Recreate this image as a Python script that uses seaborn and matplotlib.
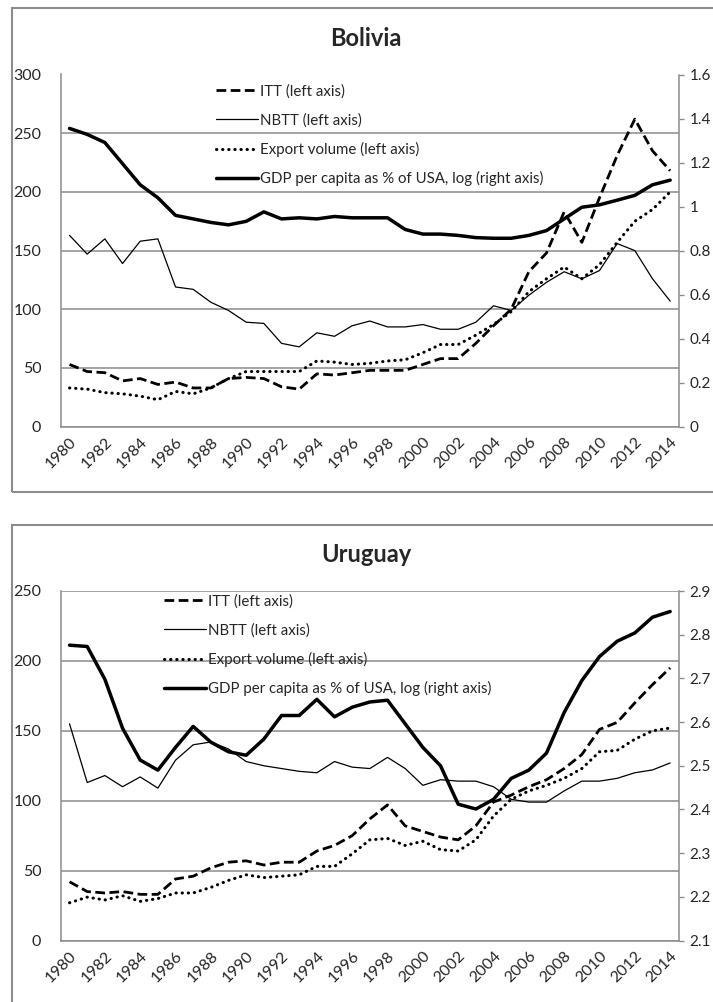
import matplotlib.pyplot as plt
from matplotlib.patches import Rectangle
import seaborn as sns
import pandas as pd

years = list(range(1980, 2015))

# Bolivia (left axis: indices, right axis: GDP per capita as % of USA, log)
bol_itt = [53, 47, 46, 39, 41, 36, 38, 33, 33, 41, 42, 41, 34, 32, 45, 44, 46, 48,
           48, 48, 53, 58, 58, 71, 86, 100, 132, 148, 183, 157, 195, 231, 262, 235, 218]
bol_nbtt = [163, 147, 160, 139, 158, 160, 119, 117, 106, 99, 89, 88, 71, 68, 80, 77, 86, 90,
            85, 85, 87, 83, 83, 89, 103, 99, 112, 123, 132, 126, 133, 156, 150, 126, 107]
bol_export = [33, 32, 29, 28, 26, 23, 30, 28, 33, 41, 47, 47, 47, 47, 56, 55, 53, 54,
              56, 57, 63, 70, 70, 78, 87, 98, 115, 126, 136, 126, 138, 157, 175, 185, 200]
bol_gdp = [1.355, 1.328, 1.291, 1.195, 1.099, 1.04, 0.96, 0.944, 0.928, 0.917, 0.933, 0.976,
           0.944, 0.949, 0.944, 0.955, 0.949, 0.949, 0.949, 0.896, 0.875, 0.875, 0.869, 0.859,
           0.856, 0.856, 0.869, 0.891, 0.944, 0.997, 1.008, 1.029, 1.051, 1.099, 1.12]

# Uruguay
uru_itt = [42, 35, 34, 35, 33, 33, 44, 46, 52, 56, 57, 54, 56, 56, 64, 68, 75, 87,
           97, 82, 78, 74, 72, 82, 99, 104, 110, 115, 123, 133, 151, 156, 170, 183, 195]
uru_nbtt = [155, 113, 118, 110, 117, 109, 129, 140, 142, 137, 128, 125, 123, 121, 120, 128, 124, 123,
            131, 123, 111, 115, 114, 114, 110, 101, 99, 99, 107, 114, 114, 116, 120, 122, 127]
uru_export = [27, 31, 29, 32, 28, 30, 34, 34, 38, 43, 47, 45, 46, 47, 53, 53, 62, 72,
              73, 68, 71, 65, 64, 72, 89, 101, 107, 111, 116, 123, 135, 136, 144, 150, 152]
uru_gdp = [2.776, 2.773, 2.698, 2.586, 2.513, 2.49, 2.542, 2.59, 2.554, 2.532, 2.524, 2.561,
           2.615, 2.615, 2.652, 2.612, 2.634, 2.646, 2.65, 2.596, 2.542, 2.50, 2.412, 2.401,
           2.423, 2.471, 2.49, 2.529, 2.622, 2.695, 2.75, 2.785, 2.804, 2.84, 2.853]

labels = ["ITT (left axis)", "NBTT (left axis)", "Export volume (left axis)",
          "GDP per capita as % of USA, log (right axis)"]

sns.set_style("white")
plt.rcParams['font.family'] = ['Lato', 'DejaVu Sans']

W, H = 713, 1002
fig = plt.figure(figsize=(W / 100, H / 100), dpi=100)
GREY = "#8c8c8c"


def panel(top, bottom, title, title_y, itt, nbtt, expo, gdp, lmax, lstep, rmin, rmax, rstep, leg_x, leg_y):
    ax = fig.add_axes([60.7 / W, 1 - bottom / H, (679 - 60.7) / W, (bottom - top) / H])
    df = pd.DataFrame({"year": years, "itt": itt, "nbtt": nbtt, "expo": expo, "gdp": gdp})

    sns.lineplot(data=df, x="year", y="itt", ax=ax, color="black", lw=2.0,
                 linestyle=(0, (3.5, 1.6)), label=labels[0], legend=False)
    sns.lineplot(data=df, x="year", y="nbtt", ax=ax, color="black", lw=0.9,
                 label=labels[1], legend=False)
    sns.lineplot(data=df, x="year", y="expo", ax=ax, color="black", lw=2.2,
                 linestyle=(0, (0.1, 1.9)), dash_capstyle="round", label=labels[2], legend=False)
    ax2 = ax.twinx()
    sns.lineplot(data=df, x="year", y="gdp", ax=ax2, color="black", lw=2.5,
                 label=labels[3], legend=False)

    ax.set_xlim(1979.5, 2014.5)
    ax.set_ylim(0, lmax)
    ax.set_yticks(range(0, lmax + 1, lstep))
    ax2.set_ylim(rmin, rmax)
    n = int(round((rmax - rmin) / rstep))
    rt = [round(rmin + i * rstep, 2) for i in range(n + 1)]
    ax2.set_yticks(rt)
    ax2.set_yticklabels([f"{v:g}" for v in rt])

    ax.set_xticks(range(1980, 2015, 2))
    ax.set_xticklabels([str(y) for y in range(1980, 2015, 2)], rotation=45,
                       ha="right", va="top", rotation_mode="anchor")
    ax.set_xlabel("")
    ax.set_ylabel("")
    ax2.set_ylabel("")

    ax.yaxis.grid(True, color=GREY, lw=1.1)
    ax.xaxis.grid(False)
    ax.set_axisbelow(True)
    for s in ["left", "bottom"]:
        ax.spines[s].set_color(GREY)
        ax.spines[s].set_linewidth(1.1)
    ax.spines["top"].set_visible(False)
    ax.spines["right"].set_visible(False)
    for s in ["left", "bottom", "top"]:
        ax2.spines[s].set_visible(False)
    ax2.spines["right"].set_color(GREY)
    ax2.spines["right"].set_linewidth(1.1)

    ax.tick_params(axis="y", length=0, pad=14, labelsize=11.5)
    ax.tick_params(axis="x", length=0, pad=6, labelsize=11.5)
    ax2.tick_params(axis="y", length=3.5, width=1, color=GREY, pad=4, labelsize=11)

    handles = ax.get_lines()[:3] + ax2.get_lines()[:1]
    ax2.legend(handles, labels, loc="upper left", bbox_to_anchor=(leg_x / W, 1 - leg_y / H),
               bbox_transform=fig.transFigure, frameon=False, fontsize=10.8,
               handlelength=2.8, handletextpad=0.15, labelspacing=0.97,
               borderpad=0, borderaxespad=0)

    fig.text(366 / W, 1 - title_y / H, title, ha="center", va="center",
             fontsize=17, fontweight="bold")


panel(74.5, 426.7, "Bolivia", 38, bol_itt, bol_nbtt, bol_export, bol_gdp,
      300, 50, 0.0, 1.6, 0.2, 216, 84)
panel(591, 940.5, "Uruguay", 555, uru_itt, uru_nbtt, uru_export, uru_gdp,
      250, 50, 2.1, 2.9, 0.1, 164, 594)

# chart area borders
fig.patches.append(Rectangle((12 / W, 1 - 492 / H), 1.2, (492 - 8) / H, transform=fig.transFigure,
                             fill=False, ec=GREY, lw=1.5))
fig.patches.append(Rectangle((12 / W, -0.05), 1.2, 0.05 + 1 - 525 / H, transform=fig.transFigure,
                             fill=False, ec=GREY, lw=1.5))

fig.savefig("out.png", dpi=100)
